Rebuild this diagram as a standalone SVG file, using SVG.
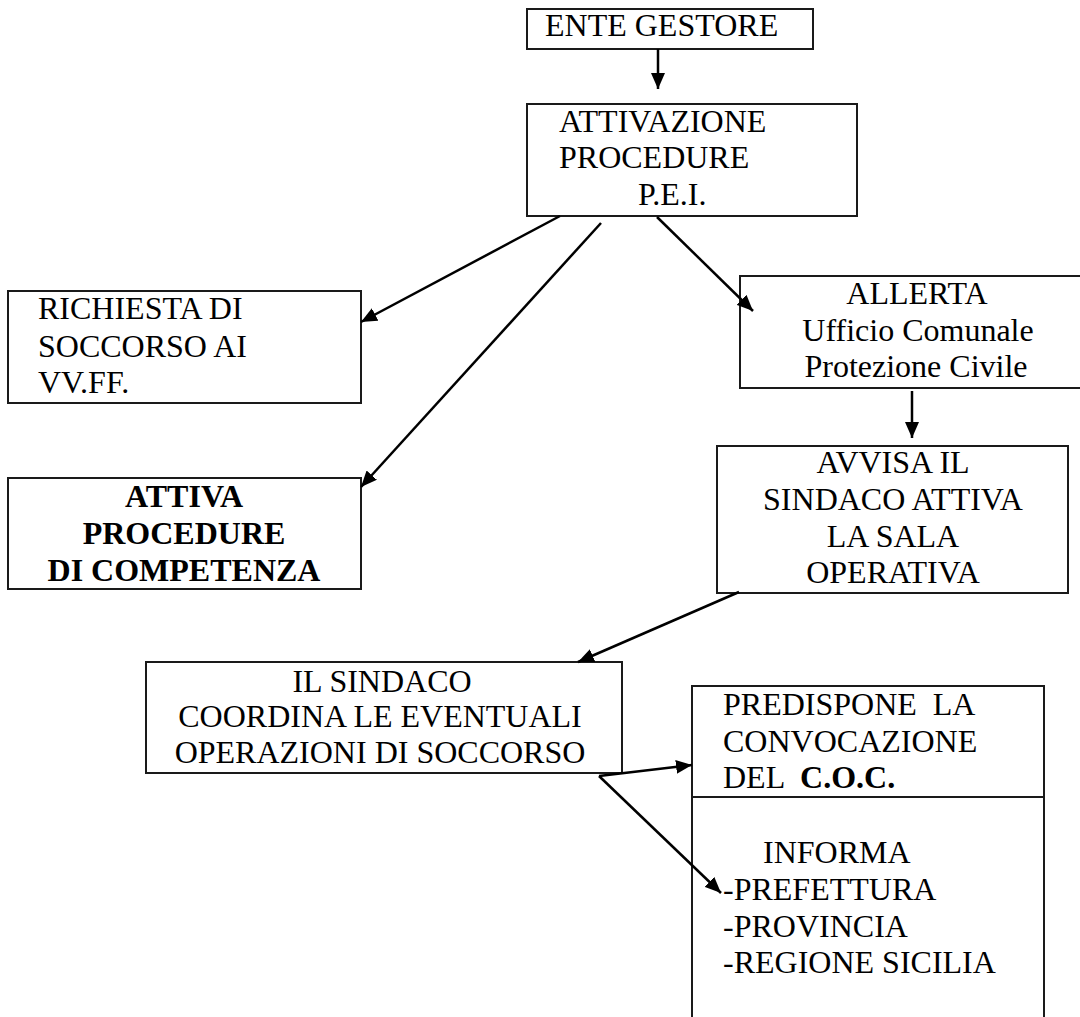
<svg xmlns="http://www.w3.org/2000/svg" width="1080" height="1017" viewBox="0 0 1080 1017">
  <style>
    .box { fill: #ffffff; stroke: #1a1a1a; stroke-width: 2; }
    .t { font-family: "Liberation Serif", "Times New Roman", serif; font-size: 32px; fill: #000; white-space: pre; }
    .c { text-anchor: middle; }
    .b { font-weight: bold; }
    .conn { stroke: #000; stroke-width: 2.5; fill: none; marker-end: url(#ah); }
  </style>
  <defs>
    <marker id="ah" markerUnits="userSpaceOnUse" markerWidth="18" markerHeight="14" refX="16" refY="7" orient="auto">
      <path d="M0,0 L16,7 L0,14 z" fill="#000"/>
    </marker>
  </defs>
  <rect width="1080" height="1017" fill="#ffffff"/>

  <g id="node-ente">
    <rect class="box" x="527" y="9" width="286" height="40"/>
    <text class="t" x="545" y="36">ENTE GESTORE</text>
  </g>

  <g id="node-attivazione">
    <rect class="box" x="527" y="104" width="330" height="112"/>
    <text class="t" x="559" y="132">ATTIVAZIONE</text>
    <text class="t" x="559" y="168">PROCEDURE</text>
    <text class="t" x="638" y="205">P.E.I.</text>
  </g>

  <g id="node-richiesta">
    <rect class="box" x="8" y="291" width="353" height="112"/>
    <text class="t" x="38" y="319">RICHIESTA DI</text>
    <text class="t" x="38" y="357">SOCCORSO AI</text>
    <text class="t" x="38" y="393">VV.FF.</text>
  </g>

  <g id="node-attiva">
    <rect class="box" x="8" y="478" width="353" height="111"/>
    <text class="t c b" x="184" y="507">ATTIVA</text>
    <text class="t c b" x="184" y="544">PROCEDURE</text>
    <text class="t c b" x="184" y="581">DI COMPETENZA</text>
  </g>

  <g id="node-allerta">
    <rect class="box" x="740" y="276" width="345" height="112"/>
    <text class="t c" x="917" y="304">ALLERTA</text>
    <text class="t c" x="918" y="341">Ufficio Comunale</text>
    <text class="t c" x="916" y="377">Protezione Civile</text>
  </g>

  <g id="node-avvisa">
    <rect class="box" x="717" y="446" width="351" height="147"/>
    <text class="t c" x="893" y="473">AVVISA IL</text>
    <text class="t c" x="893" y="510">SINDACO ATTIVA</text>
    <text class="t c" x="893" y="547">LA SALA</text>
    <text class="t c" x="893" y="583">OPERATIVA</text>
  </g>

  <g id="node-sindaco">
    <rect class="box" x="146" y="662" width="476" height="111"/>
    <text class="t c" x="382" y="692">IL SINDACO</text>
    <text class="t c" x="380" y="727">COORDINA LE EVENTUALI</text>
    <text class="t c" x="380" y="763">OPERAZIONI DI SOCCORSO</text>
  </g>

  <g id="node-predispone">
    <path class="box" d="M692,1020 L692,686 L1044,686 L1044,1020" />
    <line x1="692" y1="797" x2="1044" y2="797" stroke="#1a1a1a" stroke-width="2"/>
    <text class="t" x="723" y="715">PREDISPONE  LA</text>
    <text class="t" x="723" y="752">CONVOCAZIONE</text>
    <text class="t" x="723" y="788">DEL  <tspan class="b">C.O.C.</tspan></text>
    <text class="t" x="763" y="863">INFORMA</text>
    <text class="t" x="723" y="900">-PREFETTURA</text>
    <text class="t" x="723" y="937">-PROVINCIA</text>
    <text class="t" x="723" y="973">-REGIONE SICILIA</text>
  </g>

  <g id="connectors">
    <line class="conn" x1="658" y1="49" x2="658" y2="89"/>
    <line class="conn" x1="560" y1="216" x2="361" y2="322"/>
    <line class="conn" x1="601" y1="223" x2="361" y2="487"/>
    <line class="conn" x1="657" y1="217" x2="753" y2="311"/>
    <line class="conn" x1="912" y1="391" x2="912" y2="438"/>
    <line class="conn" x1="739" y1="592" x2="578" y2="662"/>
    <line class="conn" x1="599" y1="776" x2="692" y2="765"/>
    <line class="conn" x1="599" y1="776" x2="721" y2="893"/>
  </g>
</svg>
